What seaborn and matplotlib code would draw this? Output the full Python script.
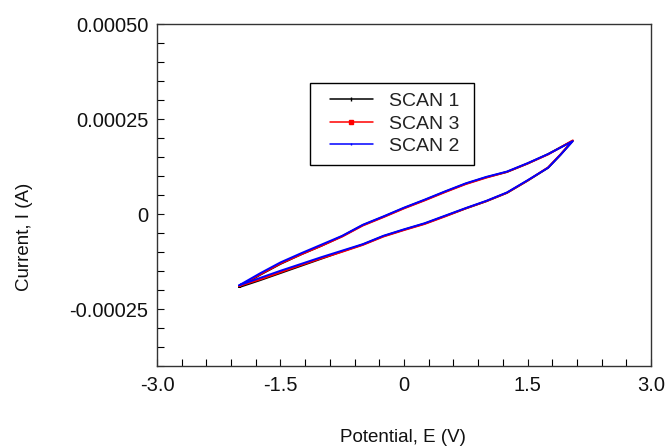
import matplotlib
matplotlib.use("Agg")
import matplotlib.pyplot as plt
import seaborn as sns
import numpy as np
import pandas as pd
from matplotlib.lines import Line2D
from matplotlib.patches import Rectangle
from matplotlib.ticker import MultipleLocator

# ---- data (potential in V, current in A) ----
potential = [-2.00, -1.75, -1.50, -1.25, -1.00, -0.75, -0.50, -0.25, 0.00, 0.25, 0.50, 0.75, 1.00, 1.25, 1.50, 1.75, 2.05,
             1.90, 1.75, 1.50, 1.25, 1.00, 0.75, 0.50, 0.25, 0.00, -0.25, -0.50, -0.75, -1.00, -1.25, -1.50, -1.75, -2.00]

scan1_current = [-0.000192, -0.000160, -0.000131, -0.000106, -0.000083, -0.000058, -0.000029, -0.000007, 0.000016, 0.000037,
                 0.000059, 0.000080, 0.000097, 0.000111, 0.000133, 0.000158, 0.000193,
                 0.000156, 0.000122, 0.000088, 0.000056, 0.000034, 0.000015, -0.000005, -0.000025, -0.000041, -0.000058,
                 -0.000080, -0.000098, -0.000117, -0.000136, -0.000155, -0.000174, -0.000192]
scan3_current = [-0.000189, -0.000159, -0.000130, -0.000106, -0.000083, -0.000059, -0.000030, -0.000008, 0.000015, 0.000036,
                 0.000058, 0.000079, 0.000096, 0.000111, 0.000133, 0.000157, 0.000194,
                 0.000157, 0.000123, 0.000088, 0.000056, 0.000034, 0.000015, -0.000006, -0.000026, -0.000042, -0.000059,
                 -0.000081, -0.000099, -0.000116, -0.000134, -0.000153, -0.000172, -0.000189]
scan2_current = [-0.000187, -0.000156, -0.000127, -0.000103, -0.000080, -0.000057, -0.000028, -0.000006, 0.000017, 0.000038,
                 0.000060, 0.000081, 0.000098, 0.000112, 0.000134, 0.000158, 0.000192,
                 0.000156, 0.000122, 0.000089, 0.000057, 0.000035, 0.000016, -0.000004, -0.000024, -0.000040, -0.000057,
                 -0.000079, -0.000096, -0.000113, -0.000131, -0.000149, -0.000168, -0.000187]

scan_labels = ["SCAN 1", "SCAN 3", "SCAN 2"]
scan_colors = ["black", "red", "blue"]

x_ticks = [-3.0, -1.5, 0.0, 1.5, 3.0]
x_ticklabels = ["-3.0", "-1.5", "0", "1.5", "3.0"]
y_ticks = [-0.00025, 0.0, 0.00025, 0.0005]
y_ticklabels = ["-0.00025", "0", "0.00025", "0.00050"]

sns.set_theme(style="white")
plt.rcParams['font.family'] = ['Liberation Sans', 'DejaVu Sans']

fig = plt.figure(figsize=(6.65, 4.46), dpi=100)
ax = fig.add_axes([0.236, 0.179, 0.743, 0.767])

for cur, lab, col in zip([scan1_current, scan3_current, scan2_current], scan_labels, scan_colors):
    sns.lineplot(x=potential, y=cur, sort=False, estimator=None, color=col, lw=1.4, ax=ax, label=lab, legend=False)

ax.set_xlim(-3.0, 3.0)
ax.set_ylim(-0.0004, 0.0005)
ax.set_xticks(x_ticks)
ax.set_xticklabels(x_ticklabels)
ax.set_yticks(y_ticks)
ax.set_yticklabels(y_ticklabels)
ax.xaxis.set_minor_locator(MultipleLocator(0.3))
ax.yaxis.set_minor_locator(MultipleLocator(0.00005))
ax.tick_params(which='both', direction='in', length=5, width=0.8, color='black',
               bottom=True, left=True, top=False, right=False)
ax.tick_params(axis='y', which='major', labelsize=14.5, pad=6, colors='#111111')
ax.tick_params(axis='x', which='major', labelsize=14.5, pad=7, colors='#111111')
for s in ax.spines.values():
    s.set_color('#333333')
    s.set_linewidth(1.0)

ax.set_xlabel("Potential, E (V)", fontsize=13.5, color='#111111')
ax.xaxis.set_label_coords(0.498, -0.184)
ax.xaxis.label.set_va('top')
ax.set_ylabel("Current, I (A)", fontsize=13.5, color='#111111')
ax.yaxis.set_label_coords(-0.25, 0.377)

# legend frame
ax.add_patch(Rectangle((0.3097, 0.5877), 0.332, 0.2398, transform=ax.transAxes,
                       facecolor='white', edgecolor='black', lw=1.0, zorder=4))
handles = [
    Line2D([], [], color='black', lw=1.1, marker='|', markersize=3),
    Line2D([], [], color='red', lw=1.1, marker='s', markersize=3, markerfacecolor='red'),
    Line2D([], [], color='blue', lw=1.1, marker='|', markersize=2),
]
leg = ax.legend(handles, scan_labels, loc='upper left', bbox_to_anchor=(0.350, 0.800),
                fontsize=14, frameon=False,
                handlelength=2.2, handletextpad=0.82, labelspacing=0.25, borderpad=0, borderaxespad=0)
leg.set_zorder(5)
for t in leg.get_texts():
    t.set_color('#222222')

fig.savefig("out.png", dpi=100)
